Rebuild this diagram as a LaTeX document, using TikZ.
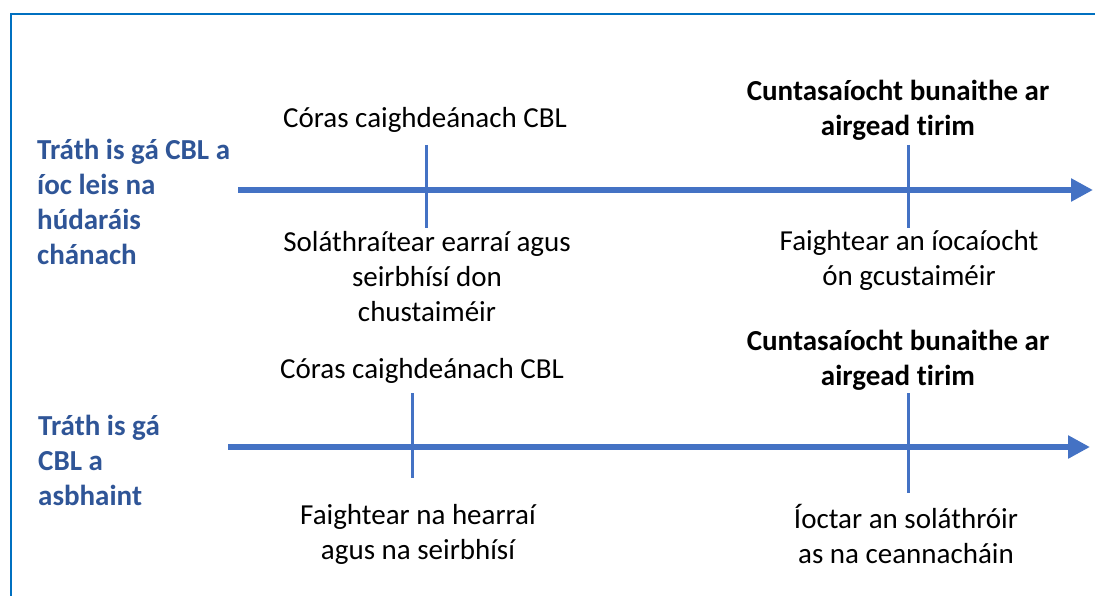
\documentclass[tikz,border=0pt]{standalone}
\usepackage{fontspec}
\setmainfont{Carlito}[Ligatures={NoCommon}]
\usetikzlibrary{arrows.meta}
\definecolor{axisblue}{HTML}{4472C4}
\definecolor{labelblue}{HTML}{2F5597}
\definecolor{frameblue}{HTML}{0070C0}
\begin{document}
\begin{tikzpicture}[x=1pt,y=-1pt,
  axis/.style={axisblue,line width=6pt,-{Triangle[length=22pt,width=22pt]}},
  tick/.style={axisblue,line width=3pt},
  txt/.style={font=\fontsize{29}{35}\selectfont,align=center,inner sep=0pt,anchor=center},
  btxt/.style={txt,font=\fontsize{29}{35}\selectfont\bfseries},
  side/.style={font=\fontsize{29}{35}\selectfont\bfseries,text=labelblue,align=left,inner sep=0pt,anchor=north west}]
\useasboundingbox (0,0) rectangle (1095,596);
\fill[white] (0,0) rectangle (1095,596);
\draw[frameblue,line width=2pt] (11,600) -- (11,14) -- (1100,14);
% row 1
\coordinate (a1s) at (238,190);
\coordinate (a1e) at (1093,190);
\draw[axis] (a1s) -- (a1e);
\coordinate (t1a) at (426,145); \coordinate (t1b) at (426,228);
\coordinate (t1c) at (908,145); \coordinate (t1d) at (908,228);
\draw[tick] (t1a) -- (t1b);
\draw[tick] (t1c) -- (t1d);
\node[side] (s1) at (37,139) {Tráth is gá CBL a\\íoc leis na\\húdaráis\\chánach};
\node[txt] (c1) at (425,120) {Córas caighdeánach CBL};
\node[btxt] (k1) at (898,110) {Cuntasaíocht bunaithe ar\\airgead tirim};
\node[txt] (b1) at (427,277) {Soláthraítear earraí agus\\seirbhísí don\\chustaiméir};
\node[txt] (d1) at (909,260) {Faightear an íocaíocht\\ón gcustaiméir};
% row 2
\coordinate (a2s) at (228,447);
\coordinate (a2e) at (1090,447);
\draw[axis] (a2s) -- (a2e);
\coordinate (t2a) at (412,393); \coordinate (t2b) at (412,478);
\coordinate (t2c) at (908,393); \coordinate (t2d) at (908,493);
\draw[tick] (t2a) -- (t2b);
\draw[tick] (t2c) -- (t2d);
\node[side] (s2) at (38,415) {Tráth is gá\\CBL a\\asbhaint};
\node[txt] (c2) at (422,371) {Córas caighdeánach CBL};
\node[btxt] (k2) at (898,360) {Cuntasaíocht bunaithe ar\\airgead tirim};
\node[txt] (b2) at (418,534) {Faightear na hearraí\\agus na seirbhísí};
\node[txt] (d2) at (906,534) {Íoctar an soláthróir\\as na ceannacháin};
\end{tikzpicture}
\end{document}
